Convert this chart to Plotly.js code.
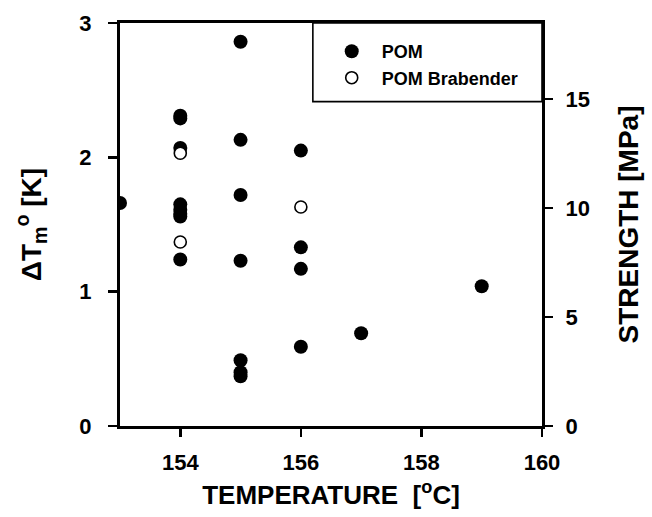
<!DOCTYPE html>
<html>
<head>
<meta charset="utf-8">
<script src="https://cdn.plot.ly/plotly-3.0.1.min.js"></script>
<style>html,body{margin:0;padding:0;background:#fff;}#chart{width:652px;height:517px;}</style>
</head>
<body>
<div id="chart"></div>
<script>
// Data
const pomTemp  = [153, 154, 154, 154, 154, 154, 154, 154, 154, 155, 155, 155, 155, 155, 155, 155, 156, 156, 156, 156, 157, 159];
const pomDelta = [1.66, 2.31, 2.29, 2.07, 1.65, 1.61, 1.58, 1.56, 1.24, 2.86, 2.13, 1.72, 1.23, 0.49, 0.40, 0.37, 2.05, 1.33, 1.17, 0.59, 0.69, 1.04];
const brabTemp  = [154, 154, 156];
const brabDelta = [2.03, 1.37, 1.63];
// Right axis (strength) carries no plotted points in the reference
const strengthTemp = [];
const strengthVals = [];
const xTicks = [154, 156, 158, 160];
const yTicks = [0, 1, 2, 3];
const y2Ticks = [0, 5, 10, 15];
const seriesNames = ['POM', 'POM Brabender'];

const FONT = 'Liberation Sans, Arial, Helvetica, sans-serif';
const tickFont = {family: FONT, size: 22, color: '#000', weight: 'bold'};

const traces = [
  {x: pomTemp, y: pomDelta, name: seriesNames[0], type: 'scatter', mode: 'markers',
   marker: {symbol: 'circle', size: 14, color: '#000', line: {width: 0}}},
  {x: brabTemp, y: brabDelta, name: seriesNames[1], type: 'scatter', mode: 'markers',
   marker: {symbol: 'circle', size: 12, color: '#fff', line: {width: 1.6, color: '#000'}}},
  {x: strengthTemp, y: strengthVals, yaxis: 'y2', type: 'scatter', mode: 'markers',
   showlegend: false, hoverinfo: 'skip', marker: {size: 1, color: 'rgba(0,0,0,0)'}}
];

const layout = {
  width: 652, height: 517,
  margin: {l: 120, r: 110, t: 23, b: 91, pad: 0},
  paper_bgcolor: '#fff', plot_bgcolor: '#fff',
  font: {family: FONT, color: '#000'},
  showlegend: true,
  legend: {x: 0.478, xanchor: 'left', y: 0.975, yanchor: 'top', bgcolor: 'rgba(0,0,0,0)',
           borderwidth: 0, itemwidth: 50, tracegroupgap: 0,
           font: {family: FONT, size: 18, color: '#000', weight: 'bold'}},
  xaxis: {range: [153, 160], tickvals: xTicks, ticks: 'outside', ticklen: 8, tickwidth: 2.5, tickcolor: '#000',
          showline: true, linewidth: 3, linecolor: '#000', mirror: true, showgrid: false, zeroline: false,
          tickfont: tickFont, ticklabelstandoff: 7,
          title: {text: 'TEMPERATURE  [<sup>o</sup>C]', standoff: 12, font: {family: FONT, size: 26, color: '#000', weight: 'bold'}}},
  yaxis: {range: [0, 3], tickvals: yTicks, ticks: 'outside', ticklen: 9, tickwidth: 2.5, tickcolor: '#000',
          showline: true, linewidth: 3, linecolor: '#000', showgrid: false, zeroline: false,
          tickfont: tickFont, ticklabelstandoff: 12,
          title: {text: 'ΔT<sub>m</sub><sup>o</sup> [K]', standoff: 30, font: {family: FONT, size: 28, color: '#000', weight: 'bold'}}},
  yaxis2: {overlaying: 'y', side: 'right', range: [0, 18.5], tickvals: y2Ticks, ticks: 'outside', ticklen: 8, tickwidth: 2.5, tickcolor: '#000',
           showline: true, linewidth: 3, linecolor: '#000', showgrid: false, zeroline: false,
           tickfont: tickFont, ticklabelstandoff: 8,
           title: {text: 'STRENGTH [MPa]', standoff: 30, font: {family: FONT, size: 28, color: '#000', weight: 'bold'}}},
  shapes: [
    {type: 'rect', xref: 'paper', yref: 'paper', x0: 0.457, x1: 1, y0: 0.805, y1: 1,
     line: {color: '#000', width: 1.6}, fillcolor: 'rgba(0,0,0,0)', layer: 'above'}
  ]
};

Plotly.newPlot('chart', traces, layout, {staticPlot: true, displayModeBar: false});
</script>
</body>
</html>
